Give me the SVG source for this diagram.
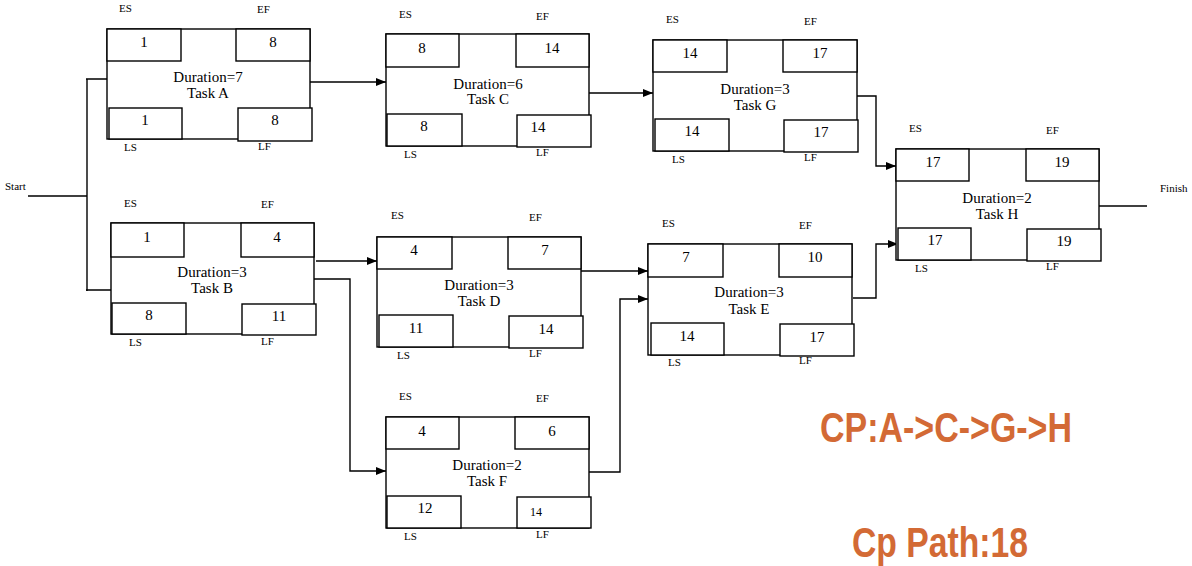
<svg xmlns="http://www.w3.org/2000/svg" width="1192" height="566" viewBox="0 0 1192 566">
<style>
rect{fill:#fff;stroke:#000;stroke-width:1.4}
.n{font-family:"Liberation Serif","Times New Roman",serif;font-size:15px;text-anchor:middle;fill:#000}
.d{font-family:"Liberation Serif","Times New Roman",serif;font-size:15px;text-anchor:middle;fill:#000}
.l{font-family:"Liberation Serif","Times New Roman",serif;font-size:11px;fill:#000}
.c{fill:none;stroke:#000;stroke-width:1.4}
.cp{font-family:"Liberation Sans",Arial,sans-serif;font-weight:bold;font-size:42px;fill:#D36A35}
</style>
<defs>
<marker id="ah" markerUnits="userSpaceOnUse" markerWidth="11" markerHeight="9" refX="10" refY="4" orient="auto">
<path d="M0,0 L10,4 L0,8 z" fill="#000"/>
</marker>
</defs>
<g id="connectors">
<text class="l" x="5" y="190">Start</text>
<path class="c" d="M28,196 H87 M87,79 V291 M86,79 H108 M86,290 H117"/>
<path class="c" d="M310,82 H386" marker-end="url(#ah)"/>
<path class="c" d="M589,93 H653" marker-end="url(#ah)"/>
<path class="c" d="M857,96 H876 V166 H896" marker-end="url(#ah)"/>
<path class="c" d="M316,261 H377" marker-end="url(#ah)"/>
<path class="c" d="M314,279 H350 V471 H386" marker-end="url(#ah)"/>
<path class="c" d="M581,271 H648" marker-end="url(#ah)"/>
<path class="c" d="M589,472 H620 V299 H648" marker-end="url(#ah)"/>
<path class="c" d="M853,298 H876 V244 H898" marker-end="url(#ah)"/>
<path class="c" d="M1099,206 H1147"/>
<text class="l" x="1160" y="192">Finish</text>
</g>
<g id="taskA">
<rect x="107" y="29" width="203" height="110"/>
<rect x="107" y="29" width="74" height="32"/><rect x="236" y="29" width="74" height="32"/>
<rect x="109" y="108" width="73" height="31"/><rect x="238" y="108" width="74" height="33"/>
<text class="n" x="144" y="47">1</text><text class="n" x="273" y="47">8</text>
<text class="n" x="145" y="125">1</text><text class="n" x="275" y="125">8</text>
<text class="d" x="208" y="82">Duration=7</text><text class="d" x="208" y="98">Task A</text>
<text class="l" x="119" y="12">ES</text><text class="l" x="257" y="13">EF</text>
<text class="l" x="124" y="151">LS</text><text class="l" x="258" y="150">LF</text>
</g>
<g id="taskB">
<rect x="111" y="223" width="203" height="111"/>
<rect x="111" y="223" width="73" height="34"/><rect x="241" y="223" width="73" height="34"/>
<rect x="112" y="303" width="74" height="31"/><rect x="242" y="304" width="74" height="31"/>
<text class="n" x="147" y="242">1</text><text class="n" x="277" y="242">4</text>
<text class="n" x="149" y="320">8</text><text class="n" x="279" y="321">11</text>
<text class="d" x="212" y="277">Duration=3</text><text class="d" x="212" y="293">Task B</text>
<text class="l" x="124" y="207">ES</text><text class="l" x="261" y="208">EF</text>
<text class="l" x="129" y="346">LS</text><text class="l" x="261" y="345">LF</text>
</g>
<g id="taskC">
<rect x="386" y="34" width="203" height="112"/>
<rect x="386" y="34" width="73" height="33"/><rect x="516" y="34" width="73" height="33"/>
<rect x="387" y="114" width="75" height="32"/><rect x="517" y="115" width="74" height="32"/>
<text class="n" x="422" y="53">8</text><text class="n" x="552" y="53">14</text>
<text class="n" x="424" y="131">8</text><text class="n" x="538" y="132">14</text>
<text class="d" x="488" y="89">Duration=6</text><text class="d" x="488" y="104">Task C</text>
<text class="l" x="399" y="18">ES</text><text class="l" x="536" y="20">EF</text>
<text class="l" x="404" y="158">LS</text><text class="l" x="536" y="156">LF</text>
</g>
<g id="taskG">
<rect x="653" y="40" width="204" height="111"/>
<rect x="653" y="40" width="74" height="32"/><rect x="783" y="40" width="74" height="32"/>
<rect x="655" y="119" width="74" height="32"/><rect x="784" y="120" width="74" height="32"/>
<text class="n" x="690" y="58">14</text><text class="n" x="820" y="58">17</text>
<text class="n" x="692" y="136">14</text><text class="n" x="821" y="137">17</text>
<text class="d" x="755" y="94">Duration=3</text><text class="d" x="755" y="110">Task G</text>
<text class="l" x="666" y="23">ES</text><text class="l" x="804" y="25">EF</text>
<text class="l" x="672" y="163">LS</text><text class="l" x="804" y="161">LF</text>
</g>
<g id="taskH">
<rect x="896" y="149" width="203" height="111"/>
<rect x="896" y="149" width="73" height="32"/><rect x="1026" y="149" width="73" height="32"/>
<rect x="898" y="228" width="73" height="32"/><rect x="1027" y="229" width="74" height="32"/>
<text class="n" x="933" y="167">17</text><text class="n" x="1062" y="167">19</text>
<text class="n" x="935" y="245">17</text><text class="n" x="1064" y="246">19</text>
<text class="d" x="997" y="203">Duration=2</text><text class="d" x="997" y="219">Task H</text>
<text class="l" x="909" y="132">ES</text><text class="l" x="1046" y="134">EF</text>
<text class="l" x="915" y="272">LS</text><text class="l" x="1046" y="270">LF</text>
</g>
<g id="taskD">
<rect x="377" y="237" width="204" height="110"/>
<rect x="377" y="237" width="75" height="32"/><rect x="508" y="237" width="73" height="32"/>
<rect x="379" y="315" width="74" height="32"/><rect x="509" y="316" width="74" height="32"/>
<text class="n" x="414" y="255">4</text><text class="n" x="545" y="255">7</text>
<text class="n" x="416" y="333">11</text><text class="n" x="546" y="334">14</text>
<text class="d" x="479" y="290">Duration=3</text><text class="d" x="479" y="306">Task D</text>
<text class="l" x="391" y="219">ES</text><text class="l" x="529" y="221">EF</text>
<text class="l" x="397" y="359">LS</text><text class="l" x="529" y="357">LF</text>
</g>
<g id="taskE">
<rect x="648" y="244" width="204" height="111"/>
<rect x="648" y="244" width="75" height="33"/><rect x="779" y="244" width="73" height="33"/>
<rect x="651" y="323" width="73" height="32"/><rect x="780" y="324" width="74" height="32"/>
<text class="n" x="686" y="262">7</text><text class="n" x="815" y="262">10</text>
<text class="n" x="687" y="341">14</text><text class="n" x="817" y="342">17</text>
<text class="d" x="749" y="297">Duration=3</text><text class="d" x="749" y="314">Task E</text>
<text class="l" x="662" y="227">ES</text><text class="l" x="799" y="229">EF</text>
<text class="l" x="668" y="366">LS</text><text class="l" x="799" y="364">LF</text>
</g>
<g id="taskF">
<rect x="386" y="417" width="203" height="111"/>
<rect x="386" y="417" width="73" height="32"/><rect x="515" y="417" width="74" height="32"/>
<rect x="387" y="496" width="74" height="32"/><rect x="517" y="497" width="74" height="31"/>
<text class="n" x="422" y="436">4</text><text class="n" x="552" y="436">6</text>
<text class="n" x="425" y="513">12</text><text class="n" x="536" y="516" style="font-size:12px">14</text>
<text class="d" x="487" y="470">Duration=2</text><text class="d" x="487" y="486">Task F</text>
<text class="l" x="399" y="400">ES</text><text class="l" x="536" y="402">EF</text>
<text class="l" x="404" y="540">LS</text><text class="l" x="536" y="538">LF</text>
</g>
<g id="notes">
<text class="cp" x="820" y="442" textLength="252" lengthAdjust="spacingAndGlyphs">CP:A-&gt;C-&gt;G-&gt;H</text>
<text class="cp" x="852" y="557" textLength="176" lengthAdjust="spacingAndGlyphs">Cp Path:18</text>
</g>
</svg>
